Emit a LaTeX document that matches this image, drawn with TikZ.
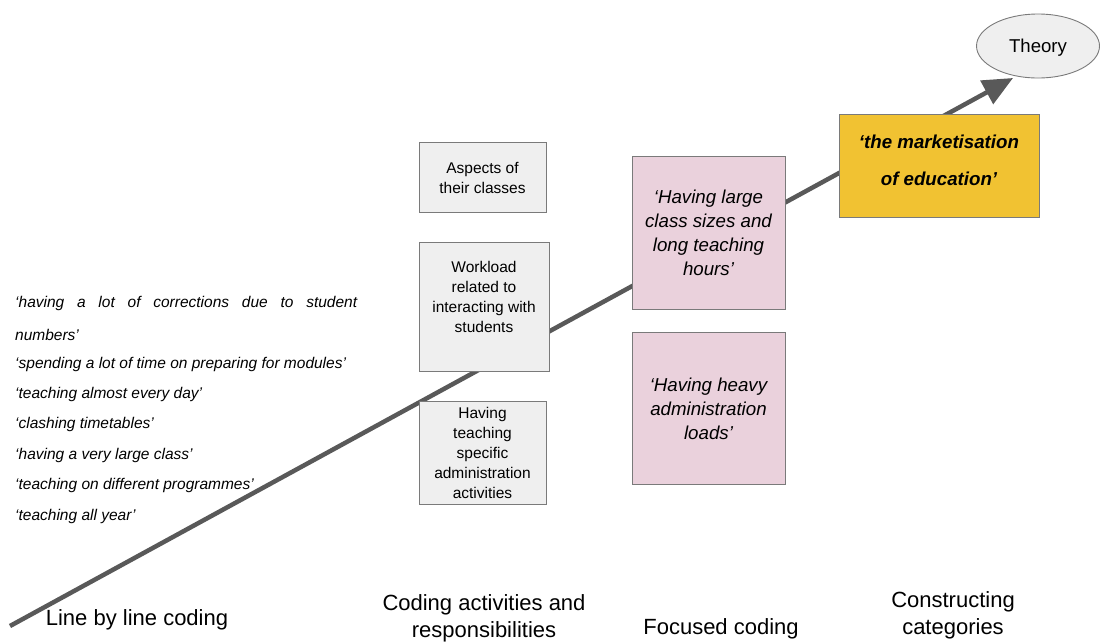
\documentclass[tikz,border=0pt]{standalone}
\usepackage{fontspec}
\setmainfont{Liberation Sans}
\usetikzlibrary{arrows.meta,shapes.geometric}
\definecolor{boxgray}{HTML}{EFEFEF}
\definecolor{boxpink}{HTML}{EAD1DC}
\definecolor{boxgold}{HTML}{F1C232}
\definecolor{edgegray}{HTML}{7A7A7A}
\definecolor{flowline}{HTML}{595959}
\tikzset{
  graybox/.style={draw=edgegray, line width=0.9pt, fill=boxgray, inner sep=0pt},
  pinkbox/.style={draw=edgegray, line width=0.9pt, fill=boxpink, inner sep=0pt},
  goldbox/.style={draw=edgegray, line width=0.9pt, fill=boxgold, inner sep=0pt},
  boxtext/.style={align=center, inner sep=0pt, font=\fontsize{15.5}{20.2}\selectfont},
  pinktext/.style={align=center, inner sep=0pt, font=\fontsize{18.7}{24}\selectfont\itshape},
  goldtext/.style={align=center, inner sep=0pt, font=\fontsize{18.7}{37}\selectfont\bfseries\itshape},
  quote/.style={anchor=west, inner sep=0pt, font=\fontsize{15.5}{17}\selectfont\itshape},
  stage/.style={align=center, inner sep=0pt, font=\fontsize{22}{27}\selectfont},
  flow/.style={draw=flowline, line width=4.5pt, -{Triangle[length=30pt,width=26pt]}}
}
\begin{document}
\begin{tikzpicture}[x=1pt,y=-1pt]
\useasboundingbox (0,0) rectangle (1102,641);

% the coding process line, drawn under the boxes
\coordinate (start) at (10,626);
\coordinate (tip) at (1013,78);
\draw[flow] (start) -- (tip);

% theory
\node[ellipse, draw=edgegray, line width=0.9pt, fill=boxgray, minimum width=123pt, minimum height=64pt] (theory) at (1038,46) {};
\node[inner sep=0pt, font=\fontsize{18.6}{20}\selectfont] (theoryT) at (1038,47.5) {Theory};

% line by line quotes
\node[quote] (q1) at (15,303.5) {\makebox[342pt][s]{‘having a lot of corrections due to student}};
\node[quote] (q2) at (15,334.5) {numbers’};
\node[quote] (q3) at (15,364.5) {‘spending a lot of time on preparing for modules’};
\node[quote] (q4) at (15,394.5) {‘teaching almost every day’};
\node[quote] (q5) at (15,424.5) {‘clashing timetables’};
\node[quote] (q6) at (15,455.5) {‘having a very large class’};
\node[quote] (q7) at (15,485.5) {‘teaching on different programmes’};
\node[quote] (q8) at (15,516.5) {‘teaching all year’};

% coding activities and responsibilities
\node[graybox, minimum width=127pt, minimum height=70pt] (aspects) at (482.5,177) {};
\node[boxtext] (aspectsT) at (482.5,178) {Aspects of\\their classes};
\node[graybox, minimum width=130pt, minimum height=129pt] (work) at (484,306.5) {};
\node[boxtext] (workT) at (484,297) {Workload\\related to\\interacting with\\students};
\node[graybox, minimum width=127pt, minimum height=103pt] (admin) at (482.5,452.5) {};
\node[boxtext] (adminT) at (482.5,453) {Having\\teaching\\specific\\administration\\activities};

% focused coding
\node[pinkbox, minimum width=153pt, minimum height=153pt] (large) at (708.5,232.5) {};
\node[pinktext] (largeT) at (708.5,233) {‘Having large\\class sizes and\\long teaching\\hours’};
\node[pinkbox, minimum width=153pt, minimum height=152pt] (heavy) at (708.5,408) {};
\node[pinktext] (heavyT) at (708.5,408.5) {‘Having heavy\\administration\\loads’};

% constructing categories
\node[goldbox, minimum width=200pt, minimum height=103pt] (market) at (939,165.5) {};
\node[goldtext] (marketT) at (939,160.5) {‘the marketisation\\of education’};

% stage labels
\node[stage] (s1) at (137,619.5) {Line by line coding};
\node[stage] (s2) at (484,618) {Coding activities and\\responsibilities};
\node[stage] (s3) at (721,628.5) {Focused coding};
\node[stage] (s4) at (953,615) {Constructing\\categories};
\end{tikzpicture}
\end{document}
